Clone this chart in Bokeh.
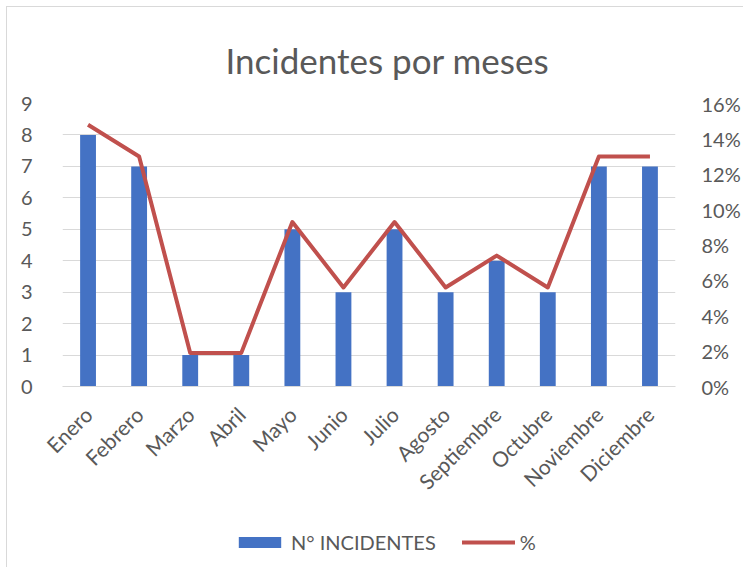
from bokeh.plotting import figure
from bokeh.layouts import column
from bokeh.models import Range1d, LinearAxis, FactorRange, Legend, LegendItem, NumeralTickFormatter, FixedTicker, ColumnDataSource
from bokeh.embed import file_html
from bokeh.resources import INLINE
from math import pi

months = ["Enero", "Febrero", "Marzo", "Abril", "Mayo", "Junio", "Julio",
          "Agosto", "Septiembre", "Octubre", "Noviembre", "Diciembre"]
incidentes = [8, 7, 1, 1, 5, 3, 5, 3, 4, 3, 7, 7]
porcentaje = [0.148, 0.130, 0.019, 0.019, 0.093, 0.056, 0.093, 0.056, 0.074, 0.056, 0.130, 0.130]
left_ticks = [0, 1, 2, 3, 4, 5, 6, 7, 8, 9]
right_ticks = [0, 0.02, 0.04, 0.06, 0.08, 0.10, 0.12, 0.14, 0.16]
series_names = ["N° INCIDENTES", "%"]

FONT = "Lato"
GREY = "#595959"
BAR_COLOR = "#4472C4"
LINE_COLOR = "#C0504D"

src = ColumnDataSource(dict(m=months, n=incidentes, p=porcentaje))

p = figure(x_range=FactorRange(*months, range_padding=0), y_range=Range1d(0, 9),
           width=736, height=520, output_backend="svg", toolbar_location=None,
           min_border_left=55, min_border_right=60, min_border_top=96, min_border_bottom=141)
p.extra_y_ranges = {"pct": Range1d(0, 0.16)}

p.title.text = "Incidentes por meses"
p.title.text_font = FONT
p.title.text_font_size = "35px"
p.title.text_font_style = "normal"
p.title.text_color = GREY
p.title.align = "left"
p.title.vertical_align = "top"
p.title.standoff = 42
p.title.offset = 163

p.vbar(x="m", top="n", width=0.31, source=src, fill_color=BAR_COLOR, line_color=None)
p.line(x="m", y="p", source=src, y_range_name="pct", line_color=LINE_COLOR,
       line_width=4, line_join="round")

p.outline_line_color = None
p.xgrid.grid_line_color = None
p.ygrid.grid_line_color = "#d9d9d9"
p.ygrid.ticker = FixedTicker(ticks=left_ticks)

ax = p.yaxis[0]
ax.ticker = FixedTicker(ticks=left_ticks)
ax.axis_line_color = None
ax.major_tick_line_color = None
ax.minor_tick_line_color = None
ax.major_label_text_font = FONT
ax.major_label_text_font_size = "20px"
ax.major_label_text_color = GREY
ax.major_label_standoff = 24

rax = LinearAxis(y_range_name="pct", ticker=FixedTicker(ticks=right_ticks),
                 formatter=NumeralTickFormatter(format="0%"))
rax.axis_line_color = None
rax.major_tick_line_color = None
rax.minor_tick_line_color = None
rax.major_label_text_font = FONT
rax.major_label_text_font_size = "20px"
rax.major_label_text_color = GREY
rax.major_label_standoff = 20
p.add_layout(rax, "right")

xa = p.xaxis[0]
xa.axis_line_color = "#d9d9d9"
xa.major_tick_line_color = None
xa.minor_tick_line_color = None
xa.major_label_orientation = pi / 4
xa.major_label_text_font = FONT
xa.major_label_text_font_size = "21px"
xa.major_label_text_color = GREY
xa.major_label_standoff = 18

# legend strip: same data, drawn outside its visible range, so only the swatches show
lg = figure(x_range=FactorRange(*months, range_padding=0), y_range=Range1d(100, 101),
            width=736, height=40, output_backend="svg", toolbar_location=None,
            x_axis_location=None, y_axis_location=None,
            min_border_left=0, min_border_right=0, min_border_top=0, min_border_bottom=0)
lg.outline_line_color = None
lg.grid.grid_line_color = None
sw_bar = lg.vbar(x="m", top="n", width=0.31, source=src, fill_color=BAR_COLOR, line_color=None)
sw_line = lg.line(x="m", y="p", source=src, line_color=LINE_COLOR, line_width=4, line_cap="round")
legend = Legend(items=[LegendItem(label=series_names[0], renderers=[sw_bar]),
                       LegendItem(label=series_names[1], renderers=[sw_line])],
                location=(171, 13), orientation="horizontal",
                glyph_width=53, glyph_height=14, label_text_font=FONT,
                label_text_font_size="20px", label_text_color=GREY,
                padding=0, margin=0, spacing=26, label_standoff=5,
                border_line_color=None, background_fill_alpha=0)
lg.add_layout(legend, "center")

layout = column(p, lg, spacing=0,
                styles={"margin": "6px 0 0 6px", "border-left": "1px solid #d9d9d9",
                        "border-top": "1px solid #d9d9d9"})

open("out.html", "w").write(file_html(layout, INLINE))
